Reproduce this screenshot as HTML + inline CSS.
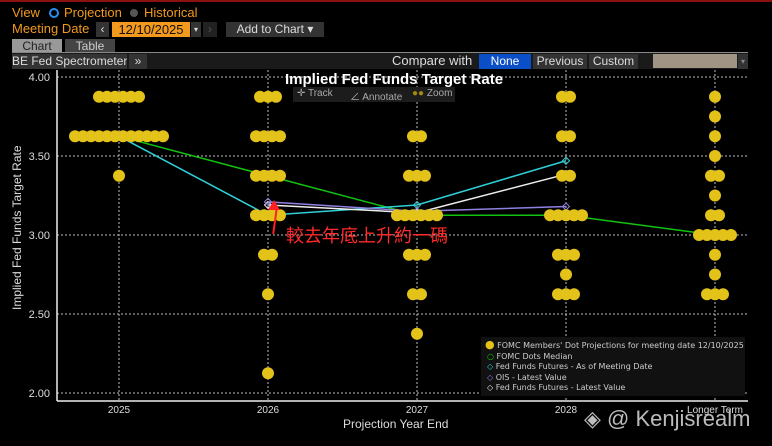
<!DOCTYPE html>
<html><head><meta charset="utf-8"><style>
body{margin:0;background:#000;width:772px;height:446px;overflow:hidden;font-family:"Liberation Sans","Noto Sans CJK TC",sans-serif;position:relative}
.a{position:absolute;white-space:nowrap}
.btn{position:absolute;background:#333;color:#ddd;font-size:12px;line-height:15px;text-align:center;white-space:nowrap;overflow:hidden}
</style></head><body>
<div class="a" style="left:0;top:0;width:772px;height:2px;background:#8b1010"></div>
<div class="a" style="left:12px;top:5px;font-size:13px;color:#f39a1e">View</div>
<div class="a" style="left:49px;top:8px;width:6px;height:6px;border:2px solid #2a8cf0;border-radius:50%"></div>
<div class="a" style="left:64px;top:5px;font-size:13px;color:#f39a1e">Projection</div>
<div class="a" style="left:130px;top:9px;width:8px;height:8px;background:#555;border-radius:50%"></div>
<div class="a" style="left:144px;top:5px;font-size:13px;color:#f39a1e">Historical</div>
<div class="a" style="left:12px;top:21px;font-size:13px;color:#f39a1e">Meeting Date</div>
<div class="btn" style="left:96px;top:22px;width:13px">‹</div>
<div class="btn" style="left:112px;top:22px;width:78px;background:#f39a1e;color:#111;font-size:13px">12/10/2025</div>
<div class="btn" style="left:191px;top:22px;width:10px;font-size:8px">▾</div>
<div class="btn" style="left:203px;top:22px;width:14px;background:#222;color:#555">›</div>
<div class="btn" style="left:226px;top:22px;width:98px">Add to Chart ▾</div>
<div class="btn" style="left:12px;top:39px;width:50px;background:#999;color:#222;font-size:12px">Chart</div>
<div class="btn" style="left:65px;top:39px;width:50px;background:#444;color:#ccc">Table</div>
<div class="a" style="left:12px;top:52px;width:736px;height:1px;background:#888"></div>
<div class="a" style="left:12px;top:53px;width:736px;height:16px;background:#1a1a1a"></div>
<div class="btn" style="left:12px;top:54px;width:115px;color:#ddd">BE Fed Spectrometer</div>
<div class="btn" style="left:129px;top:54px;width:18px">»</div>
<div class="a" style="left:392px;top:53px;font-size:13px;color:#ddd">Compare with</div>
<div class="btn" style="left:479px;top:54px;width:52px;background:#0a4fc8;color:#fff">None</div>
<div class="btn" style="left:533px;top:54px;width:54px">Previous</div>
<div class="btn" style="left:589px;top:54px;width:49px">Custom</div>
<div class="a" style="left:653px;top:54px;width:84px;height:14px;background:#a09585"></div>
<div class="btn" style="left:738px;top:54px;width:10px;font-size:8px;color:#888">▾</div>

<svg class="a" style="left:0;top:0" width="772" height="446">
<g id="grid"></g><g id="lines"></g><g id="dots"></g><g id="axes"></g>
</svg>

<div class="a" style="left:285px;top:71px;font-size:15px;font-weight:bold;color:#fff">Implied Fed Funds Target Rate</div>
<div class="a" style="left:293px;top:87px;width:162px;height:15px;background:#1c1c1c"></div>
<div class="a" style="left:297px;top:88px;font-size:10px;color:#aaa">✛ Track</div>
<div class="a" style="left:350px;top:88px;font-size:10px;color:#aaa">∠ Annotate</div>
<div class="a" style="left:412px;top:88px;font-size:10px;color:#aaa"><span style="color:#a08a10">●●</span> Zoom</div>
<div class="a" style="left:274px;top:208px;width:2px;height:26px;background:#ff2020;transform:rotate(8deg)"></div>
<div class="a" style="left:268px;top:200px;width:0;height:0;border-left:6px solid transparent;border-right:6px solid transparent;border-bottom:10px solid #ff2020"></div>
<div class="a" style="left:286px;top:222px;font-size:18px;color:#ff2a2a">較去年底上升約一碼</div>
<div class="a" style="left:-58px;top:228px;width:150px;text-align:center;font-size:12px;color:#ddd;transform:rotate(-90deg)">Implied Fed Funds Target Rate</div>
<div class="a" style="left:343px;top:417px;font-size:12px;color:#ddd">Projection Year End</div>

<div class="a" style="left:481px;top:337px;width:264px;height:59px;background:#111;font-family:'DejaVu Sans',sans-serif;font-size:8px;color:#ccc;line-height:10.5px;padding-top:3px;box-sizing:border-box">
<div><span style="color:#e3c21a;font-size:11px;margin-left:4px">●</span> FOMC Members' Dot Projections for meeting date 12/10/2025</div>
<div><span style="color:#11c211;margin-left:6px">○</span> FOMC Dots Median</div>
<div><span style="color:#2ed0d8;margin-left:6px">◇</span> Fed Funds Futures - As of Meeting Date</div>
<div><span style="color:#9080e0;margin-left:6px">◇</span> OIS - Latest Value</div>
<div><span style="color:#eee;margin-left:6px">◇</span> Fed Funds Futures - Latest Value</div>
</div>
<div class="a" style="left:584px;top:406px;font-size:22px;color:#ddd;opacity:.85">◈ @ Kenjisrealm</div>

<script>
const categories=["2025","2026","2027","2028","Longer Term"];
const yTicks=[4.0,3.5,3.0,2.5,2.0];
const dotRates=[
 [3.875,3.625,3.375],
 [3.875,3.625,3.375,3.125,2.875,2.625,2.125],
 [3.625,3.375,3.125,2.875,2.625,2.375],
 [3.875,3.625,3.375,3.125,2.875,2.75,2.625],
 [3.875,3.75,3.625,3.5,3.375,3.25,3.125,3.0,2.875,2.75,2.625]];
const dotCounts=[
 [6,12,1],
 [3,4,4,4,2,1,1],
 [2,3,6,3,2,1],
 [2,2,2,5,3,1,3],
 [1,1,1,1,2,1,2,5,1,1,3]];
const median=[3.625,3.375,3.125,3.125,3.0];
const ffMeeting=[3.625,3.125,3.19,3.47,null];
const ffLatest=[null,3.19,3.14,3.385,null];
const ois=[null,3.21,3.15,3.18,null];
const X=i=>119+i*149, Y=v=>77+(4-v)*158;
const NS="http://www.w3.org/2000/svg";
function mk(p,t,a){const e=document.createElementNS(NS,t);for(const k in a)e.setAttribute(k,a[k]);document.getElementById(p).appendChild(e);return e;}
yTicks.forEach(v=>{
 const g=mk('grid','line',{x1:57,x2:748,y1:Y(v),y2:Y(v),stroke:'#bbb','stroke-dasharray':'2,2','stroke-width':1});
 
 const t=mk('axes','text',{x:50,y:Y(v)+4,'text-anchor':'end',fill:'#ddd','font-size':11,'font-family':'Liberation Sans'});
 t.textContent=v.toFixed(2);
});
categories.forEach((c,i)=>{
 const g=mk('grid','line',{x1:X(i),x2:X(i),y1:70,y2:400,stroke:'#bbb','stroke-dasharray':'2,2','stroke-width':1});
 
 const t=mk('axes','text',{x:X(i),y:413,'text-anchor':'middle',fill:'#ddd','font-size':10,'font-family':'Liberation Sans'});
 t.textContent=c;
});
let ax=mk('axes','line',{x1:57,x2:57,y1:70,y2:401,stroke:'#eee','stroke-width':1.5});

ax=mk('axes','line',{x1:57,x2:748,y1:401,y2:401,stroke:'#eee','stroke-width':1.5});

dotRates.forEach((rs,i)=>rs.forEach((r,j)=>{
 const n=dotCounts[i][j];
 for(let k=0;k<n;k++){
  const d=mk('dots','circle',{cx:X(i)+(k-(n-1)/2)*8,cy:Y(r),r:6,fill:'#e3c21a'});
  
 }
}));
function series(vals,col,name,marker){
 const pts=vals.map((v,i)=>v==null?null:[X(i),Y(v)]).filter(Boolean);
 const l=mk('lines','polyline',{points:pts.map(p=>p.join(',')).join(' '),fill:'none',stroke:col,'stroke-width':1.5});
 
 pts.forEach(p=>{
  const m=marker=='o'?mk('lines','circle',{cx:p[0],cy:p[1],r:3,fill:'none',stroke:col,'stroke-width':1.2}):
   mk('lines','rect',{x:p[0]-2.5,y:p[1]-2.5,width:5,height:5,fill:'none',stroke:col,transform:`rotate(45 ${p[0]} ${p[1]})`});
  
 });
}
series(median,'#11c211','median-line','o');
series(ffMeeting,'#2ed0d8','ff-meeting-line','d');
series(ffLatest,'#eeeeee','ff-latest-line','d');
series(ois,'#9080e0','ois-line','d');
</script>
</body></html>
